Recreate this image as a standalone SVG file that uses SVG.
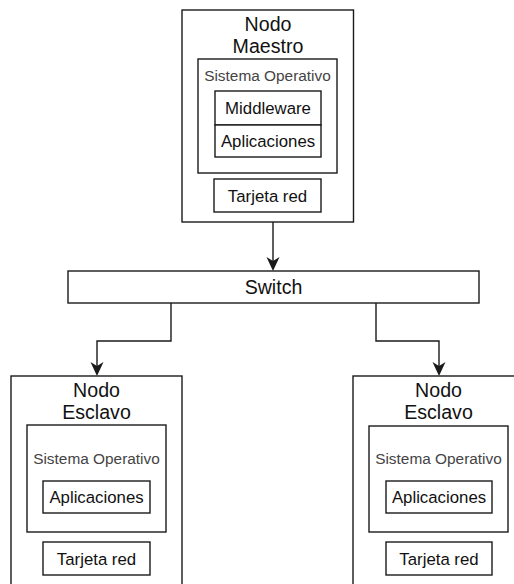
<svg xmlns="http://www.w3.org/2000/svg" width="514" height="584" viewBox="0 0 514 584">
<style>
.box{fill:#fff;stroke:#1a1a1a;stroke-width:1.4}
.edge{fill:none;stroke:#1a1a1a;stroke-width:1.4}
text{font-family:"Liberation Sans",Arial,sans-serif;fill:#111;text-anchor:middle}
.t{font-size:19.6px}
.so{font-size:15.4px;fill:#444}
.in{font-size:16.8px}
</style>
<defs>
<marker id="arr" viewBox="-5 -8 17 16" refX="0" refY="0" markerWidth="17" markerHeight="16" markerUnits="userSpaceOnUse" orient="auto">
<path d="M10,0 L-4,-6.5 L0,0 L-4,6.5 Z" fill="#1a1a1a"/>
</marker>
</defs>
<g id="connectors">
<path class="edge" d="M273,222 V261" marker-end="url(#arr)"/>
<path class="edge" d="M171,303 V341 H97 V366" marker-end="url(#arr)"/>
<path class="edge" d="M376,303 V341 H439 V366" marker-end="url(#arr)"/>
</g>
<g id="master">
<rect class="box" x="182" y="10" width="171.5" height="212"/>
<text class="t" x="268" y="31">Nodo</text>
<text class="t" x="268" y="53">Maestro</text>
<g id="master-so">
<rect class="box" x="198" y="59" width="139" height="114"/>
<text class="so" x="267.5" y="81">Sistema Operativo</text>
</g>
<g id="master-mw">
<rect class="box" x="215" y="91" width="106" height="34"/>
<text class="in" x="268" y="114">Middleware</text>
</g>
<g id="master-app">
<rect class="box" x="215" y="125" width="106" height="32"/>
<text class="in" x="268" y="147">Aplicaciones</text>
</g>
<g id="master-net">
<rect class="box" x="214" y="179" width="107" height="33"/>
<text class="in" x="267.5" y="201.5">Tarjeta red</text>
</g>
</g>
<g id="switch">
<rect class="box" x="68" y="271" width="411" height="32"/>
<text class="t" x="273.5" y="294">Switch</text>
</g>
<g id="slave1">
<rect class="box" x="11" y="376" width="171" height="220"/>
<text class="t" x="96.5" y="397">Nodo</text>
<text class="t" x="96.5" y="419">Esclavo</text>
<g id="slave1-so">
<rect class="box" x="27" y="425" width="139" height="107"/>
<text class="so" x="96.5" y="464">Sistema Operativo</text>
</g>
<g id="slave1-app">
<rect class="box" x="43" y="481" width="107" height="32"/>
<text class="in" x="96.5" y="503">Aplicaciones</text>
</g>
<g id="slave1-net">
<rect class="box" x="43" y="542" width="107" height="33"/>
<text class="in" x="96.5" y="564.5">Tarjeta red</text>
</g>
</g>
<g id="slave2">
<rect class="box" x="353" y="376" width="171" height="220"/>
<text class="t" x="438.5" y="397">Nodo</text>
<text class="t" x="438.5" y="419">Esclavo</text>
<g id="slave2-so">
<rect class="box" x="369" y="426" width="139" height="106"/>
<text class="so" x="438.5" y="464">Sistema Operativo</text>
</g>
<g id="slave2-app">
<rect class="box" x="386" y="481" width="106" height="32"/>
<text class="in" x="439" y="503">Aplicaciones</text>
</g>
<g id="slave2-net">
<rect class="box" x="386" y="542" width="106" height="33"/>
<text class="in" x="439" y="564.5">Tarjeta red</text>
</g>
</g>
</svg>
